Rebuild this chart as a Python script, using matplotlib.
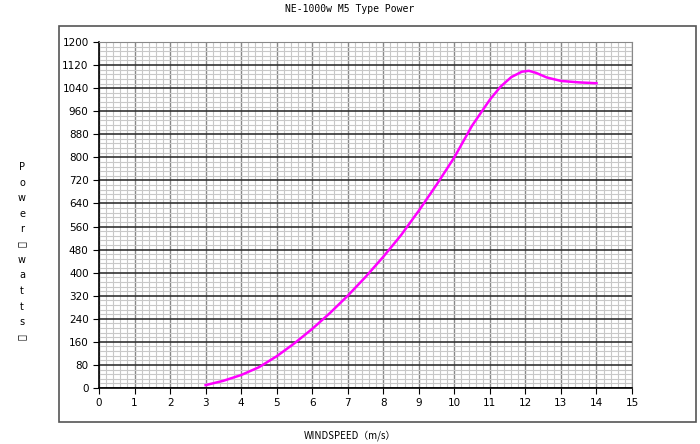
import numpy as np
import matplotlib
matplotlib.use('Agg')
import matplotlib.pyplot as plt
from matplotlib.patches import Rectangle

# values
windspeed = [3.0, 3.5, 4.0, 4.5, 5.0, 5.5, 6.0, 6.5, 7.0, 7.5, 8.0, 8.5, 9.0,
             9.5, 10.0, 10.5, 11.0, 11.3, 11.6, 11.9, 12.1, 12.3, 12.6, 13.0, 13.5, 14.0]
power = [10, 25, 45, 72, 110, 155, 205, 260, 320, 385, 455, 530, 615,
         705, 800, 910, 1000, 1045, 1078, 1097, 1100, 1093, 1077, 1065, 1060, 1057]

xticks = list(range(0, 16))
yticks = list(range(0, 1201, 80))

fig = plt.figure(figsize=(7, 4.44), dpi=100)
fig.patches.append(Rectangle((59 / 700, 22 / 444), 637 / 700, 396 / 444, transform=fig.transFigure,
                             fill=False, edgecolor='#555555', linewidth=1.2))
ax = fig.add_axes([99 / 700, 56 / 444, 533 / 700, 346 / 444])

ax.set_xlim(0, 15)
ax.set_ylim(0, 1200)
ax.set_xticks(xticks)
ax.set_yticks(yticks)
ax.set_xticks(np.arange(0, 15.01, 0.2), minor=True)
ax.set_yticks(np.arange(0, 1200.1, 16), minor=True)
ax.tick_params(which='minor', length=0)
ax.tick_params(which='major', length=4, labelsize=7.5, direction='out')
ax.grid(which='minor', color='#c8c8c8', linewidth=0.8)
ax.grid(which='major', axis='x', color='#888888', linewidth=1.0)
ax.grid(which='major', axis='y', color='#333333', linewidth=1.2)
for s in ['top', 'right']:
    ax.spines[s].set_color('#888888')
for s in ['left', 'bottom']:
    ax.spines[s].set_color('black')
    ax.spines[s].set_linewidth(1.2)

ax.plot(windspeed, power, color='#ff00ff', linewidth=1.8)

fig.text(0.5, 435 / 444, 'NE-1000w M5 Type Power', ha='center', va='center', fontsize=7, family='monospace')
fig.text(0.5, 8 / 444, 'WINDSPEED\uff08m/s\uff09', ha='center', va='center', fontsize=7,
         family=['Noto Sans CJK SC', 'DejaVu Sans'])
ylab = 'Power\uff08watts\uff09'
for i, ch in enumerate(ylab):
    fig.text(22 / 700, (444 - 167 - i * 15.5) / 444, ch, ha='center', va='center', fontsize=7,
             rotation=90 if ch in '\uff08\uff09' else 0, family=['DejaVu Sans'])

fig.savefig('out.png', dpi=100)
